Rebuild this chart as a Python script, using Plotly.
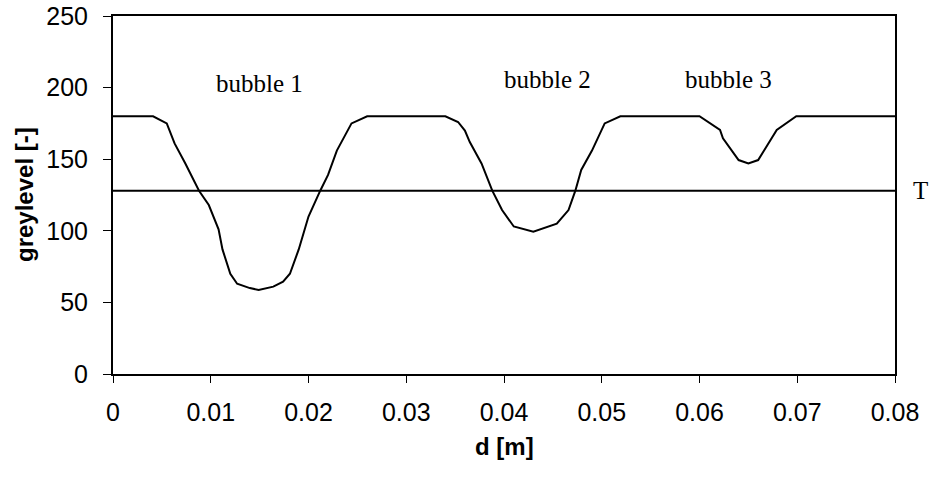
import plotly.graph_objects as go

# Greylevel profile along the measurement line
d_m = [0.0, 0.0041, 0.0055, 0.0063, 0.0074, 0.0088, 0.0098, 0.0108, 0.0112, 0.0120,
       0.0127, 0.0140, 0.0149, 0.0164, 0.0174, 0.0181, 0.0190, 0.0200, 0.0212, 0.0220,
       0.0229, 0.0244, 0.0260, 0.0340, 0.0353, 0.0360, 0.0365, 0.0377, 0.0388, 0.0398,
       0.0410, 0.0430, 0.0454, 0.0466, 0.0473, 0.0479, 0.0490, 0.0503, 0.0519, 0.0600,
       0.0621, 0.0624, 0.0640, 0.0650, 0.0660, 0.0670, 0.0679, 0.0699, 0.0800]
greylevel = [180, 180, 175, 161, 147, 128, 118, 101, 87, 70,
             63, 60, 58.7, 61, 64.5, 70, 87, 110, 128, 139,
             156, 175, 180, 180, 176, 170, 162, 147, 128, 114.5,
             103, 99.4, 105, 114.5, 128, 142.5, 156, 175, 180, 180,
             170.4, 164.6, 149.4, 147, 149.4, 160, 170.4, 180, 180]

# Threshold level
threshold_d = [0.0, 0.08]
threshold_value = [128, 128]

# Bubble annotations
bubble_labels = ["bubble 1", "bubble 2", "bubble 3"]
bubble_x = [0.0150, 0.0444, 0.0630]
bubble_y = [203, 206, 206]

x_ticks = [0, 0.01, 0.02, 0.03, 0.04, 0.05, 0.06, 0.07, 0.08]
x_tick_text = ["0", "0.01", "0.02", "0.03", "0.04", "0.05", "0.06", "0.07", "0.08"]
y_ticks = [0, 50, 100, 150, 200, 250]

fig = go.Figure()
fig.add_trace(go.Scatter(x=d_m, y=greylevel, mode="lines",
                         line=dict(color="black", width=2), showlegend=False))
fig.add_trace(go.Scatter(x=threshold_d, y=threshold_value, mode="lines",
                         line=dict(color="black", width=2), showlegend=False))

serif = "Liberation Serif, Times New Roman, serif"
sans = "Liberation Sans, Arial, sans-serif"

for lab, bx, by in zip(bubble_labels, bubble_x, bubble_y):
    fig.add_annotation(x=bx, y=by, text=lab, showarrow=False,
                       font=dict(family=serif, size=25, color="black"))

fig.add_annotation(x=1, xref="paper", y=threshold_value[0], yref="y", text="T",
                   showarrow=False, xanchor="left", xshift=16,
                   font=dict(family=serif, size=25, color="black"))

fig.add_annotation(x=0.5, xref="paper", y=0, yref="paper", text="<b>d [m]</b>",
                   showarrow=False, yanchor="middle", yshift=-72,
                   font=dict(family=sans, size=24, color="black"))
fig.add_annotation(x=0, xref="paper", y=0.5, yref="paper", text="<b>greylevel [-]</b>",
                   showarrow=False, xanchor="center", xshift=-89, textangle=-90,
                   font=dict(family=sans, size=24, color="black"))

fig.update_layout(
    width=929, height=478,
    margin=dict(l=113, r=34, t=16, b=104),
    paper_bgcolor="white", plot_bgcolor="white",
    font=dict(family=sans, size=25, color="black"),
)
fig.update_xaxes(range=[0, 0.08], tickvals=x_ticks, ticktext=x_tick_text,
                 showgrid=False, zeroline=False, showline=True, linecolor="black",
                 linewidth=2, mirror=True, ticks="outside", ticklen=7, tickwidth=1,
                 tickcolor="black", automargin=False, ticklabelstandoff=8)
fig.update_yaxes(range=[0, 250], tickvals=y_ticks,
                 showgrid=False, zeroline=False, showline=True, linecolor="black",
                 linewidth=2, mirror=True, ticks="outside", ticklen=8, tickwidth=1,
                 tickcolor="black", automargin=False, ticklabelstandoff=10)

fig.write_html("out.html")
